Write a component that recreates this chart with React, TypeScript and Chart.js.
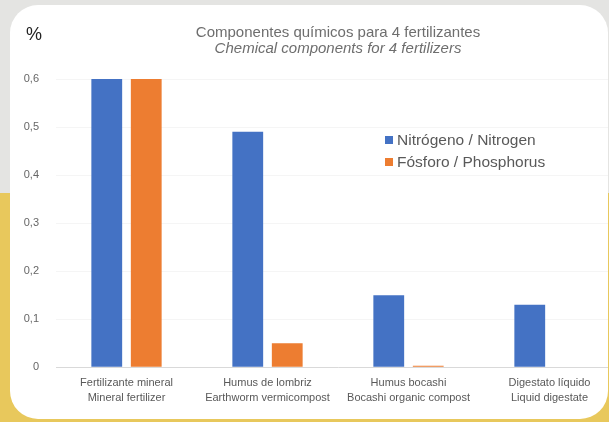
import React, { useEffect, useRef } from "react";
import { Chart, registerables } from "chart.js";

Chart.register(...registerables);

const categories: string[][] = [
  ["Fertilizante mineral", "Mineral fertilizer"],
  ["Humus de lombriz", "Earthworm vermicompost"],
  ["Humus bocashi", "Bocashi organic compost"],
  ["Digestato líquido", "Liquid digestate"],
];
const nitrogen: number[] = [0.6, 0.49, 0.15, 0.13];
const phosphorus: number[] = [0.6, 0.05, 0.003, 0];
const seriesNames: string[] = ["Nitrógeno / Nitrogen", "Fósforo / Phosphorus"];
const titleLines: string[] = [
  "Componentes químicos para 4 fertilizantes",
  "Chemical components for 4 fertilizers",
];
const yTicks: number[] = [0, 0.1, 0.2, 0.3, 0.4, 0.5, 0.6];

const BLUE = "#4472c4";
const ORANGE = "#ed7d31";
const FONT = "'Liberation Sans', Arial, sans-serif";

export default function App() {
  const ref = useRef<HTMLCanvasElement | null>(null);

  useEffect(() => {
    document.body.style.margin = "0";
    const canvas = ref.current;
    if (!canvas) return;
    const chart = new Chart(canvas, {
      type: "bar",
      data: {
        labels: categories,
        datasets: [
          {
            label: seriesNames[0],
            data: nitrogen,
            backgroundColor: BLUE,
            categoryPercentage: 0.56,
            barPercentage: 0.78,
          },
          {
            label: seriesNames[1],
            data: phosphorus,
            backgroundColor: ORANGE,
            categoryPercentage: 0.56,
            barPercentage: 0.78,
          },
        ],
      },
      options: {
        animation: false,
        responsive: false,
        maintainAspectRatio: false,
        layout: { padding: { top: 25, right: 20, bottom: 9, left: 0 } },
        plugins: {
          legend: { display: false },
          tooltip: { enabled: false },
          title: {
            display: true,
            fullSize: false,
            text: titleLines[0],
            color: "#6e6e6e",
            font: { family: FONT, size: 15, weight: "normal", lineHeight: 1 },
            padding: { top: 0, bottom: 1 },
          },
          subtitle: {
            display: true,
            fullSize: false,
            text: titleLines[1],
            color: "#6e6e6e",
            font: { family: FONT, size: 15, style: "italic", lineHeight: 1 },
            padding: { top: 0, bottom: 23 },
          },
        },
        scales: {
          x: {
            grid: { display: false, drawTicks: false },
            border: { display: true, color: "#d9d9d9" },
            ticks: {
              color: "#595959",
              font: { family: FONT, size: 11, lineHeight: 1.35 },
              padding: 8,
              maxRotation: 0,
              autoSkip: false,
            },
          },
          y: {
            min: 0,
            max: 0.6,
            afterFit: (scale: any) => {
              scale.width = 56;
            },
            afterBuildTicks: (scale: any) => {
              scale.ticks = yTicks.map((v) => ({ value: v }));
            },
            grid: { color: "#f5f5f5", drawTicks: false },
            border: { display: false },
            ticks: {
              color: "#666666",
              font: { family: FONT, size: 11 },
              padding: 17,
              callback: (v: any) => (v === 0 ? "0" : Number(v).toFixed(1).replace(".", ",")),
            },
          },
        },
      },
    });
    return () => chart.destroy();
  }, []);

  return (
    <div
      style={{
        position: "fixed",
        left: 0,
        top: 0,
        width: 609,
        height: 422,
        overflow: "hidden",
        background: "linear-gradient(#e4e4e2 0px, #e4e4e2 193px, #e8c85c 193px, #e8c85c 422px)",
        fontFamily: FONT,
      }}
    >
      <div
        style={{
          position: "absolute",
          left: 10,
          top: 5,
          width: 598,
          height: 414,
          background: "#ffffff",
          borderRadius: 28,
          overflow: "hidden",
        }}
      >
        <canvas
          ref={ref}
          width={640}
          height={422}
          style={{ position: "absolute", left: -10, top: -5, width: 640, height: 422 }}
        />
        <div style={{ position: "absolute", left: 16, top: 19, fontSize: 18, color: "#222" }}>%</div>
        <div style={{ position: "absolute", left: 375, top: 124, fontSize: 15.5, color: "#595959", lineHeight: "22px" }}>
          {seriesNames.map((n, i) => (
            <div key={n} style={{ display: "flex", alignItems: "center" }}>
              <span
                style={{
                  display: "inline-block",
                  width: 8,
                  height: 8,
                  background: i === 0 ? BLUE : ORANGE,
                  marginRight: 4,
                }}
              />
              <span style={{ whiteSpace: "nowrap" }}>{n}</span>
            </div>
          ))}
        </div>
      </div>
    </div>
  );
}
